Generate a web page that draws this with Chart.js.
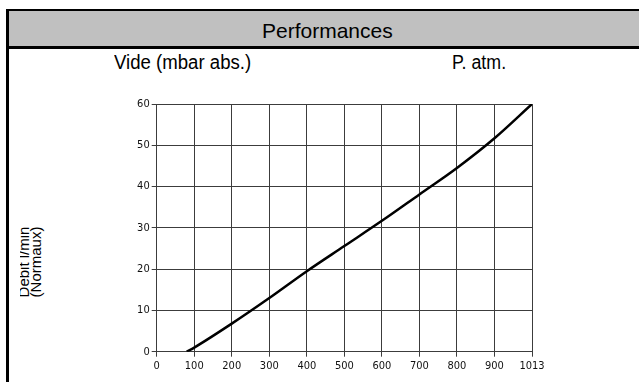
<!DOCTYPE html>
<html>
<head>
<meta charset="utf-8">
<script src="https://cdn.jsdelivr.net/npm/chart.js@4/dist/chart.umd.min.js"></script>
<style>
  html, body { margin: 0; padding: 0; background: #fff; }
  #wrap { position: relative; width: 639px; height: 382px; overflow: hidden; background: #fff; }
  #leftBorder { position: absolute; left: 6px; top: 9px; width: 3px; height: 373px; background: #000; }
  #header { position: absolute; left: 6px; top: 9px; width: 633px; height: 35px; background: #c0c0c0;
            border-top: 2px solid #000; border-bottom: 3px solid #000; }
  .txt { position: absolute; font-family: 'Liberation Sans', Arial, sans-serif;
         color: #000; white-space: nowrap; transform-origin: 0 0; }
  #title { left: 262px; top: 20px; font-size: 21px; line-height: 21px; }
  #vide  { left: 114px; top: 51.5px; font-size: 20px; line-height: 20px; transform: scaleX(0.93); }
  #patm  { left: 452px; top: 51.5px; font-size: 20px; line-height: 20px; transform: scaleX(0.89); }
  #yclip { position: absolute; left: 20px; top: 180px; width: 40px; height: 170px; overflow: hidden; }
  #ytitle { position: absolute; left: -2px; top: 0; width: 170px; height: 24px;
            transform-origin: 0 0; transform: translate(0px, 167px) rotate(-90deg);
            font-family: 'Liberation Sans', Arial, sans-serif;
            font-size: 15px; line-height: 11.5px; text-align: center; color: #000; white-space: nowrap; }
  canvas { position: absolute; left: 0; top: 0; }
</style>
</head>
<body>
<div id="wrap">
  <div id="header"></div>
  <div id="leftBorder"></div>
  <div class="txt" id="title">Performances</div>
  <div class="txt" id="vide">Vide (mbar abs.)</div>
  <div class="txt" id="patm">P. atm.</div>
  <div id="yclip"><div id="ytitle">Debit l/min<br>(Normaux)</div></div>
  <canvas id="c" width="639" height="382"></canvas>
</div>
<script>
// ---- data ----
const pressureMbar = [80, 100, 200, 300, 400, 500, 600, 700, 800, 900, 1013];
const flowLmin     = [0, 1.0, 6.8, 13.0, 19.5, 25.6, 31.7, 38.1, 44.5, 51.7, 60];
const xTickLabels  = ['0', '100', '200', '300', '400', '500', '600', '700', '800', '900', '1013'];
const yTickValues  = [0, 10, 20, 30, 40, 50, 60];

// The x axis is drawn with equal spacing; the last interval is 900 -> 1013.
function axisPos(p) {
  return p <= 900 ? p : 900 + (p - 900) * 100 / 113;
}

const points = pressureMbar.map((p, i) => ({ x: axisPos(p), y: flowLmin[i] }));

const tickFont = { family: "'DejaVu Sans Condensed', 'DejaVu Sans', sans-serif", size: 11 };
const gridColor = '#3c3c3c';

new Chart(document.getElementById('c'), {
  type: 'line',
  data: {
    datasets: [{
      data: points,
      borderColor: '#000',
      borderWidth: 2.5,
      pointRadius: 0,
      cubicInterpolationMode: 'monotone',
      fill: false
    }]
  },
  options: {
    responsive: false,
    animation: false,
    layout: { padding: { left: 0, top: 104, right: 107, bottom: 0 } },
    plugins: { legend: { display: false }, tooltip: { enabled: false }, title: { display: false } },
    scales: {
      x: {
        type: 'linear',
        min: 0, max: 1000,
        afterFit: s => { s.height = 30.3; },
        afterBuildTicks: s => { s.ticks = xTickLabels.map((l, i) => ({ value: i * 100 })); },
        ticks: {
          padding: 3,
          color: '#111',
          font: tickFont,
          maxRotation: 0,
          autoSkip: false,
          callback: (v, i) => xTickLabels[i]
        },
        grid: { color: gridColor, lineWidth: 1, tickLength: 5, tickColor: gridColor },
        border: { color: gridColor, width: 1 }
      },
      y: {
        type: 'linear',
        min: yTickValues[0], max: yTickValues[yTickValues.length - 1],
        afterFit: s => { s.width = 156.7; },
        afterBuildTicks: s => { s.ticks = yTickValues.map(v => ({ value: v })); },
        ticks: { padding: 2, color: '#111', font: tickFont },
        grid: { color: gridColor, lineWidth: 1, tickLength: 5, tickColor: gridColor },
        border: { color: gridColor, width: 1 }
      }
    }
  }
});
</script>
</body>
</html>
